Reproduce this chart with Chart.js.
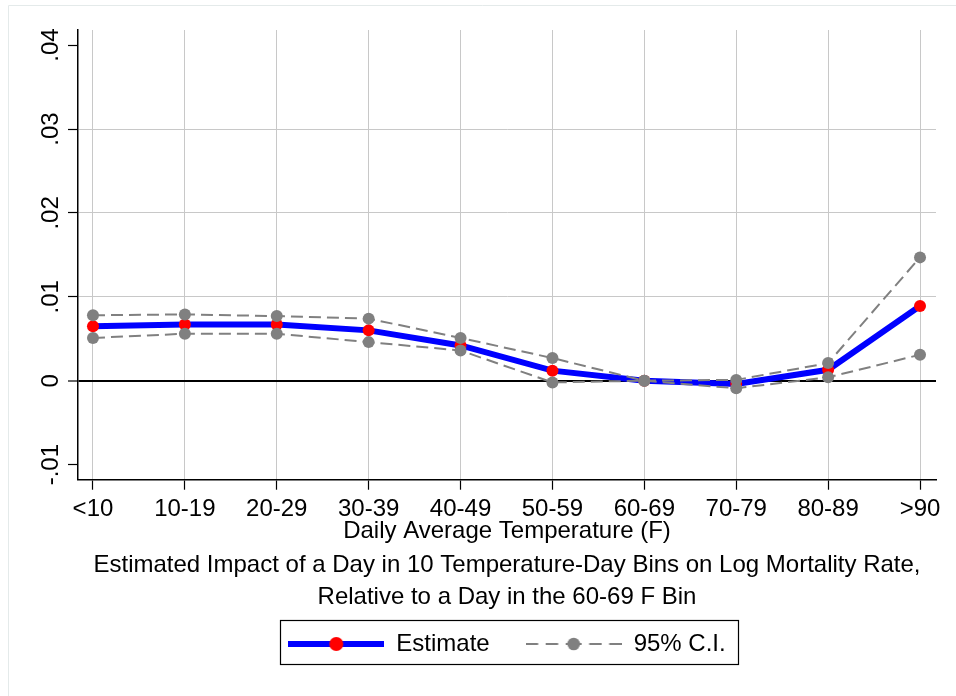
<!DOCTYPE html>
<html>
<head>
<meta charset="utf-8">
<title>Temperature-day bins and log mortality</title>
<script src="https://cdn.jsdelivr.net/npm/chart.js@4/dist/chart.umd.min.js"></script>
<style>
  html, body { margin: 0; padding: 0; background: #fff; }
  #chart { display: block; }
</style>
</head>
<body>
<canvas id="chart" width="956" height="696"></canvas>
<script>
"use strict";

// ---------- Data ----------
const categories = ["<10", "10-19", "20-29", "30-39", "40-49", "50-59", "60-69", "70-79", "80-89", ">90"];
const estimate = [0.0065, 0.0067, 0.0067, 0.0060, 0.0042, 0.0012, 0.0000, -0.0004, 0.0013, 0.0089];
const ciUpper = [0.0078, 0.0079, 0.0077, 0.0074, 0.0051, 0.0027, 0.0000, 0.0001, 0.0021, 0.0147];
const ciLower = [0.0051, 0.0056, 0.0056, 0.0046, 0.0036, -0.0002, 0.0000, -0.0009, 0.0004, 0.0031];
const yTicks = [-0.01, 0, 0.01, 0.02, 0.03, 0.04];
const yTickLabels = ["-.01", "0", ".01", ".02", ".03", ".04"];

const BLUE = "#0000ff";
const RED = "#ff0000";
const GRAY = "#808080";
const GRID = "#c8c8c8";

Chart.defaults.font.family = "'Liberation Sans', Arial, Helvetica, sans-serif";
Chart.defaults.font.size = 24;
Chart.defaults.color = "#000";

const points = (arr) => arr.map((y, i) => ({ x: i, y }));

// ---------- Legend symbols ----------
function legendSymbol(kind) {
  const c = document.createElement("canvas");
  c.width = 96;
  c.height = 16;
  const g = c.getContext("2d");
  if (kind === "estimate") {
    g.strokeStyle = BLUE;
    g.lineWidth = 6;
    g.beginPath(); g.moveTo(0, 8); g.lineTo(96, 8); g.stroke();
    g.fillStyle = RED;
    g.beginPath(); g.arc(48, 8, 7, 0, Math.PI * 2); g.fill();
  } else {
    g.strokeStyle = GRAY;
    g.lineWidth = 2.2;
    g.setLineDash([12.5, 7.5]);
    g.beginPath(); g.moveTo(0, 8); g.lineTo(42, 8); g.stroke();
    g.beginPath(); g.moveTo(96, 8); g.lineTo(54, 8); g.stroke();
    g.fillStyle = GRAY;
    g.beginPath(); g.arc(48, 8, 6.3, 0, Math.PI * 2); g.fill();
  }
  return c;
}
const estSymbol = legendSymbol("estimate");
const ciSymbol = legendSymbol("ci");

// ---------- Plugins ----------
const graphFrame = {
  id: "graphFrame",
  beforeDraw(chart) {
    const { ctx, width, height } = chart;
    ctx.save();
    ctx.strokeStyle = "#e4eaea";
    ctx.lineWidth = 1;
    ctx.beginPath();
    ctx.moveTo(8.5, height);
    ctx.lineTo(8.5, 5.5);
    ctx.lineTo(width, 5.5);
    ctx.stroke();
    ctx.restore();
  },
};

const legendBox = {
  id: "legendBox",
  afterDraw(chart) {
    const lg = chart.legend;
    const hb = lg && lg.legendHitBoxes;
    if (!hb || !hb.length) return;
    const last = hb[hb.length - 1];
    const left = Math.round(hb[0].left - 8) + 0.5;
    const right = Math.round(last.left + last.width + 12) + 0.5;
    const top = Math.round(lg.top) + 0.5;
    const ctx = chart.ctx;
    ctx.save();
    ctx.strokeStyle = "#000";
    ctx.lineWidth = 1.2;
    ctx.strokeRect(left, top, right - left, 44);
    ctx.restore();
  },
};

// ---------- Chart ----------
const ciStyle = {
  borderColor: GRAY,
  borderWidth: 2,
  borderDash: [12, 6],
  pointRadius: 6,
  pointHoverRadius: 6,
  pointBackgroundColor: GRAY,
  pointBorderWidth: 0,
  tension: 0,
  order: 0,
};

new Chart(document.getElementById("chart"), {
  type: "line",
  data: {
    datasets: [
      {
        label: "Estimate",
        data: points(estimate),
        borderColor: BLUE,
        borderWidth: 6,
        pointRadius: 6,
        pointHoverRadius: 6,
        pointBackgroundColor: RED,
        pointBorderWidth: 0,
        tension: 0,
        order: 1,
      },
      { label: "95% C.I.", data: points(ciUpper), ...ciStyle },
      { label: "95% C.I. (lower)", data: points(ciLower), ...ciStyle },
    ],
  },
  options: {
    responsive: false,
    animation: false,
    layout: { padding: { left: 0, top: 30, right: 20, bottom: 30 } },
    scales: {
      x: {
        type: "linear",
        min: -0.163,
        max: 9.174,
        afterBuildTicks: (axis) => { axis.ticks = categories.map((_, i) => ({ value: i })); },
        afterFit: (axis) => { axis.height = 64; },
        ticks: {
          autoSkip: false,
          maxRotation: 0,
          padding: 8,
          font: { size: 24, lineHeight: 1 },
          callback: (v, i) => categories[i],
        },
        grid: { color: GRID, lineWidth: 1, tickColor: "#000", tickLength: 10, tickWidth: 1.2 },
        border: { color: "#000", width: 1.5 },
        title: {
          display: true,
          text: "Daily Average Temperature (F)",
          font: { size: 24, lineHeight: 1 },
          padding: { top: 0, bottom: 0 },
        },
      },
      y: {
        min: -0.0118,
        max: 0.0418,
        afterBuildTicks: (axis) => { axis.ticks = yTicks.map((v) => ({ value: v })); },
        afterFit: (axis) => { axis.width = 78; },
        ticks: {
          minRotation: 90,
          maxRotation: 90,
          crossAlign: "center",
          padding: -4,
          font: { size: 24, lineHeight: 1 },
          callback: (v, i) => yTickLabels[i],
        },
        grid: {
          color: (c) => {
            const v = c.tick ? c.tick.value : null;
            if (v === 0) return "#000";
            if (v === yTicks[0] || v === yTicks[yTicks.length - 1]) return "rgba(0,0,0,0)";
            return GRID;
          },
          lineWidth: (c) => (c.tick && c.tick.value === 0 ? 2 : 1),
          tickColor: "#000",
          tickLength: 10,
          tickWidth: 1.2,
        },
        border: { color: "#000", width: 1.5 },
      },
    },
    plugins: {
      tooltip: { enabled: false },
      title: {
        display: true,
        position: "bottom",
        fullSize: false,
        text: [
          "Estimated Impact of a Day in 10 Temperature-Day Bins on Log Mortality Rate,",
          "Relative to a Day in the 60-69 F Bin",
        ],
        font: { size: 24, weight: "normal", lineHeight: 1.36 },
        color: "#000",
        padding: { top: 5, bottom: 6 },
      },
      legend: {
        position: "bottom",
        fullSize: false,
        weight: 3000,
        labels: {
          usePointStyle: true,
          pointStyleWidth: 96,
          padding: 12,
          color: "#000",
          font: { size: 24 },
          generateLabels: () => [
            { text: "Estimate\u2003", pointStyle: estSymbol, fontColor: "#000", lineWidth: 0, datasetIndex: 0, hidden: false },
            { text: "95% C.I.", pointStyle: ciSymbol, fontColor: "#000", lineWidth: 0, datasetIndex: 1, hidden: false },
          ],
        },
      },
    },
  },
  plugins: [graphFrame, legendBox],
});
</script>
</body>
</html>
